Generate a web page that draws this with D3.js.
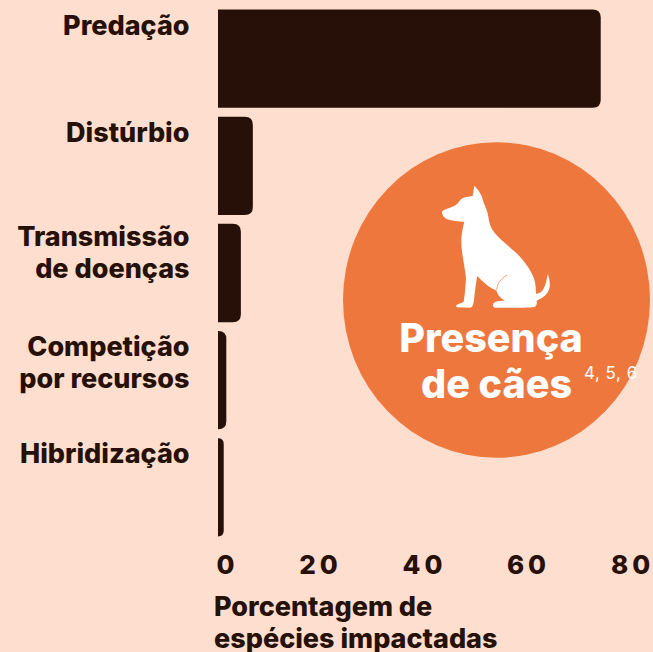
<!DOCTYPE html>
<html><head><meta charset="utf-8">
<script src="https://cdn.jsdelivr.net/npm/d3@7"></script>
<style>
html,body{margin:0;padding:0;background:#FEDFCF;overflow:hidden}
svg{display:block}
text{font-family:Inter,"Open Sans",sans-serif;font-weight:800}
</style></head><body>
<svg id="c" width="653" height="652"></svg>
<script>
const categories=["Predação","Distúrbio","Transmissão de doenças","Competição por recursos","Hibridização"];
const categoryLines=[["Predação"],["Distúrbio"],["Transmissão","de doenças"],["Competição","por recursos"],["Hibridização"]];
const values=[73.6,6.7,4.4,1.6,1.1];
const xTicks=[0,20,40,60,80];
const axisTitle=["Porcentagem de","espécies impactadas"];
const calloutTitle=["Presença","de cães"];
const calloutRefs="4, 5, 6";

const dark="#261008",orange="#EE773E",white="#FFFFFF";
const svg=d3.select("#c");
const x=d3.scaleLinear().domain([0,80]).range([218,634]);
const y=d3.scaleBand().domain(categories).range([9.5,536.5]).paddingInner(0.083).paddingOuter(0);

function barPath(d,i){
  const x0=x(0),x1=x(values[i]),y0=y(d),h=y.bandwidth(),r=Math.min(8,x1-x0);
  return `M${x0},${y0}H${x1-r}Q${x1},${y0} ${x1},${y0+r}V${y0+h-r}Q${x1},${y0+h} ${x1-r},${y0+h}H${x0}Z`;
}
svg.append("g").selectAll("path").data(categories).join("path").attr("d",barPath).attr("fill",dark);

// category labels: first-line baseline relative to the bar top
const lab=svg.append("g").attr("fill",dark).attr("text-anchor","end").style("font-size","27px");
const labelOffset=[25.5,25.2,22,25,25];
categoryLines.forEach((ls,i)=>ls.forEach((t,j)=>{
  lab.append("text").attr("x",189.5).attr("y",y(categories[i])+labelOffset[i]+j*32).text(t);
}));

// axis
const ax=svg.append("g").attr("transform","translate(0,574)")
  .call(d3.axisBottom(x).tickValues(xTicks).tickSize(0).tickPadding(0));
ax.select(".domain").remove();
ax.selectAll("text").attr("y",0).attr("dy",0).attr("fill",dark)
  .style("font-size","26px").style("letter-spacing","4px").style("font-family","Inter,sans-serif").style("font-weight","800")
  .attr("text-anchor",d=>d===0?"start":"middle").attr("dx",-2);

const t=svg.append("g").attr("fill",dark).style("font-size","27px");
axisTitle.forEach((s,j)=>t.append("text").attr("x",214).attr("y",616+j*31.5).text(s));

// callout
svg.append("ellipse").attr("cx",496.5).attr("cy",300).attr("rx",153.5).attr("ry",157.8).attr("fill",orange);
const dog=svg.append("g").attr("transform","translate(420,170) scale(0.3333)");
dog.append("path").attr("fill",white).attr("d","M163,47 L176,62 L186,80 L190,95 C197,112 203,125 205,140 C208,160 212,172 222,186 C232,200 258,222 290,250 C310,270 330,295 342,325 C347,340 348,358 348,371 C356,372 364,368 370,358 C377,345 381,328 383,312 C388,325 391,340 389,352 C386,368 375,380 358,388 L350,392 C352,400 350,408 343,411 C320,414 250,414 225,413 C217,411 217,404 222,398 C230,392 245,392 255,392 C243,385 232,375 230,362 L215,355 C200,345 185,332 172,318 C168,335 165,365 162,390 C161,402 158,412 150,413 L112,412 C106,410 108,405 115,402 C122,399 128,399 131,395 C134,380 136,355 138,325 C135,295 128,265 125,235 C123,210 124,190 133,155 C115,155 95,153 82,148 C72,143 66,135 66,126 C68,120 78,117 90,113 C100,109 112,104 117,95 C122,86 130,83 140,81 L158,78 Z");
dog.append("path").attr("fill","none").attr("stroke",orange).attr("stroke-width",2).attr("d","M262,315 C248,322 238,332 233,345 L230,360");

const ct=svg.append("g").attr("fill",white).attr("text-anchor","middle").style("font-size","39.5px");
ct.append("text").attr("x",491).attr("y",352).text(calloutTitle[0]);
ct.append("text").attr("x",496.5).attr("y",397.5).text(calloutTitle[1]);
svg.append("text").attr("x",584).attr("y",379).attr("fill",white).style("font-size","17px").style("font-weight","400").style("letter-spacing","0.5px").text(calloutRefs);
</script></body></html>
